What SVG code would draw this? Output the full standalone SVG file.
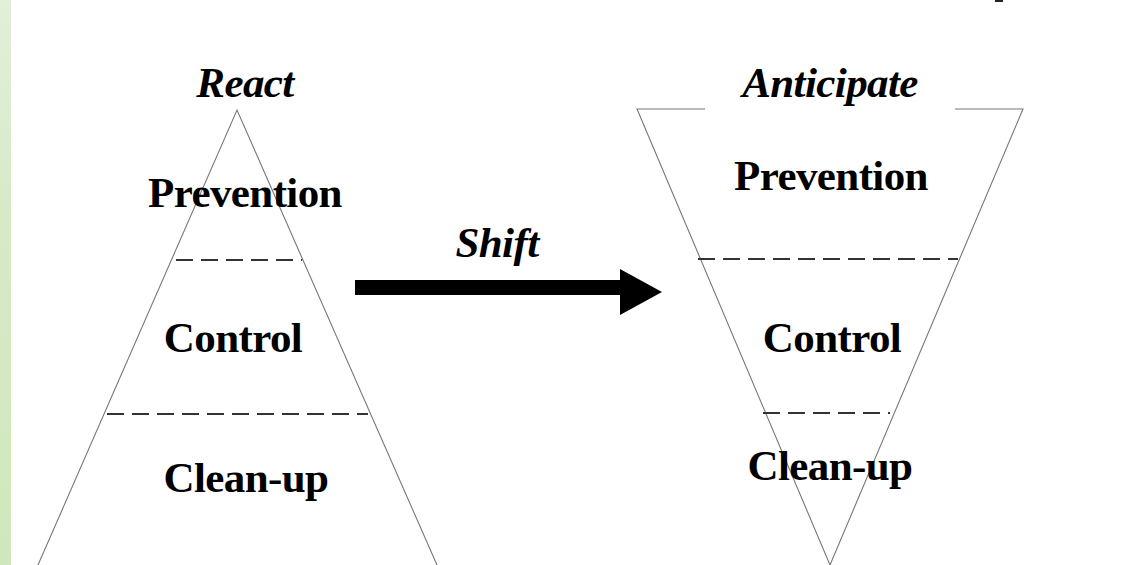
<svg xmlns="http://www.w3.org/2000/svg" width="1128" height="565" viewBox="0 0 1128 565">
<defs>
<linearGradient id="strip" x1="0" y1="0" x2="0" y2="1">
<stop offset="0" stop-color="#e2efda"/>
<stop offset="0.4" stop-color="#d6eac6"/>
<stop offset="1" stop-color="#d0e7bb"/>
</linearGradient>
<style>
.edge{fill:none;stroke:#777;stroke-width:1.1}
.dash{fill:none;stroke:#333;stroke-width:2.2;stroke-dasharray:17 8}
.lbl{font-family:"Liberation Serif","Times New Roman",serif;font-weight:bold;font-size:43px;fill:#000;text-anchor:middle;letter-spacing:-0.6px}
.it{font-style:italic}
</style>
</defs>
<rect width="1128" height="565" fill="#fff"/>
<rect x="0" y="0" width="11" height="565" fill="url(#strip)"/>
<rect x="995" y="0" width="8" height="2" fill="#222"/>
<g id="react">
<path class="edge" d="M38 565 L237 110 L437 565"/>
<line class="dash" x1="176" y1="260" x2="302" y2="260"/>
<line class="dash" x1="107" y1="414" x2="368" y2="414"/>
<text class="lbl it" x="245" y="97">React</text>
<text class="lbl" x="245" y="207">Prevention</text>
<text class="lbl" x="233" y="352">Control</text>
<text class="lbl" x="246" y="492">Clean-up</text>
</g>
<g id="anticipate">
<path class="edge" d="M705 109 L637 109 L830 565 L1023 109 L955 109"/>
<line class="dash" x1="698" y1="259" x2="958" y2="259"/>
<line class="dash" x1="763" y1="413" x2="890" y2="413"/>
<text class="lbl it" x="830" y="97">Anticipate</text>
<text class="lbl" x="831" y="190">Prevention</text>
<text class="lbl" x="832" y="352">Control</text>
<text class="lbl" x="830" y="480">Clean-up</text>
</g>
<g id="connectors">
<path d="M355 280 L620 280 L620 269 L662 292 L620 315 L620 295 L355 295 Z" fill="#000"/>
<text class="lbl it" x="497" y="257">Shift</text>
</g>
</svg>
